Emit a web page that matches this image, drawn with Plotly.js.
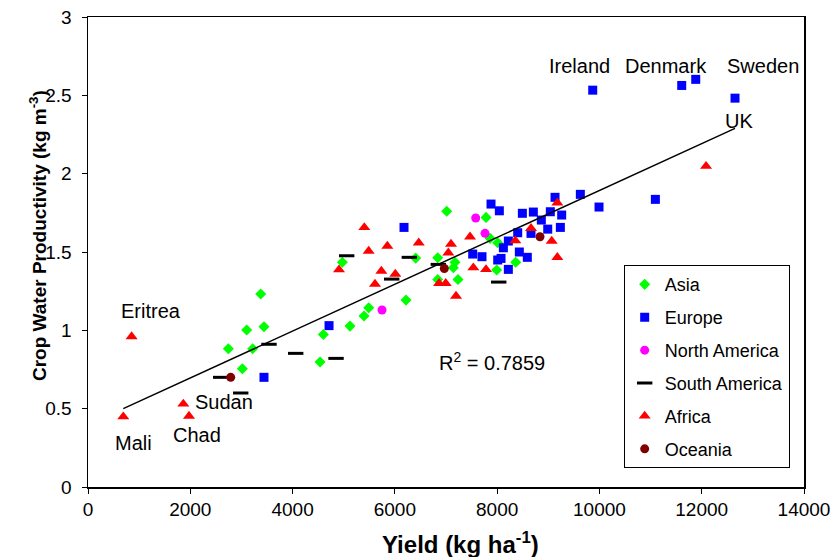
<!DOCTYPE html>
<html>
<head>
<meta charset="utf-8">
<script src="https://cdn.plot.ly/plotly-3.0.1.min.js"></script>
<style>html,body{margin:0;padding:0;background:#fff;}#chart{width:836px;height:557px;}</style>
</head>
<body>
<div id="chart"></div>
<script>
// Asia
const asiaX = [2744, 3018, 3103, 3220, 3377, 3441, 4537, 4602, 5123, 5397, 5489, 4973, 6218, 6407, 6838, 7176, 7143, 6838, 7235, 7014, 7783, 7861, 8011, 7991, 8363];
const asiaY = [0.883, 0.755, 1.002, 0.883, 1.232, 1.023, 0.798, 0.974, 1.027, 1.091, 1.144, 1.434, 1.193, 1.461, 1.463, 1.434, 1.400, 1.325, 1.325, 1.760, 1.721, 1.587, 1.559, 1.385, 1.434];
// Europe
const europeX = [3441, 4713, 6179, 7522, 7704, 7880, 8043, 8011, 8076, 8219, 8122, 8219, 8402, 8434, 8590, 8493, 8708, 8662, 8864, 8989, 9040, 9132, 9236, 9262, 9627, 9992, 11094, 9869, 11609, 11883, 12651];
const europeY = [0.700, 1.030, 1.657, 1.487, 1.470, 1.806, 1.763, 1.449, 1.459, 1.389, 1.527, 1.570, 1.623, 1.500, 1.466, 1.747, 1.755, 1.619, 1.704, 1.646, 1.757, 1.849, 1.657, 1.736, 1.868, 1.787, 1.836, 2.533, 2.563, 2.602, 2.482];
// North America
const naX = [5749, 7581, 7763];
const naY = [1.130, 1.717, 1.619];
// South America
const saX = [2595, 2986, 3539, 4061, 4850, 5058, 5938, 6283, 6850, 8031];
const saY = [0.700, 0.600, 0.911, 0.853, 0.821, 1.476, 1.327, 1.466, 1.421, 1.308];
// Africa
const africaX = [690, 853, 1864, 1975, 4908, 5403, 5488, 5612, 5736, 5853, 6009, 6467, 6864, 6994, 7046, 7098, 7196, 7470, 7535, 7783, 8356, 8662, 9067, 9177, 9177, 12085];
const africaY = [0.449, 0.960, 0.530, 0.453, 1.387, 1.657, 1.506, 1.295, 1.378, 1.538, 1.359, 1.559, 1.300, 1.300, 1.495, 1.551, 1.219, 1.597, 1.400, 1.389, 1.572, 1.651, 1.570, 1.466, 1.814, 2.048];
// Oceania
const oceaniaX = [2790, 6967, 8838];
const oceaniaY = [0.700, 1.395, 1.597];
// Linear trend line endpoints
const trendX = [690, 12651];
const trendY = [0.500, 2.289];
// Country labels
const labelText = ["Ireland", "Denmark", "Sweden", "UK", "Eritrea", "Mali", "Sudan", "Chad"];
const labelX = [9601, 11302, 13199, 12731, 1222, 890, 2650, 2125];
const labelY = [2.688, 2.688, 2.688, 2.336, 1.125, 0.281, 0.544, 0.332];
const r2Text = "R<sup>2</sup> = 0.7859";
const r2X = 7894, r2Y = 0.80;
const xTicks = [0, 2000, 4000, 6000, 8000, 10000, 12000, 14000];
const yTicks = [0, 0.5, 1, 1.5, 2, 2.5, 3];
const yTickText = ["0", "0.5", "1", "1.5", "2", "2.5", "3"];
const xTitle = "Yield (kg ha<sup>-1</sup>)";
const yTitle = "Crop Water Productivity (kg m<sup>-3</sup>)";

const FONT = "Liberation Sans, Arial, sans-serif";

const traces = [
  {x: asiaX, y: asiaY, name: "Asia", legendgroup: "a", mode: "markers", type: "scatter",
   marker: {symbol: "diamond", size: 8.5, color: "#00ff00"}},
  {x: europeX, y: europeY, name: "Europe", legendgroup: "b", mode: "markers", type: "scatter",
   marker: {symbol: "square", size: 9, color: "#0000ff"}},
  {x: naX, y: naY, name: "North America", legendgroup: "c", mode: "markers", type: "scatter",
   marker: {symbol: "circle", size: 9, color: "#ff00ff"}},
  {x: saX, y: saY, name: "South America", legendgroup: "d", mode: "markers", type: "scatter",
   marker: {symbol: "line-ew", size: 11, color: "#000000", line: {color: "#000000", width: 3}}},
  {x: africaX, y: africaY, name: "Africa", legendgroup: "e", mode: "markers", type: "scatter",
   marker: {symbol: "triangle-up", size: 10.5, color: "#ff0000"}},
  {x: oceaniaX, y: oceaniaY, name: "Oceania", legendgroup: "f", mode: "markers", type: "scatter",
   marker: {symbol: "circle", size: 9, color: "#800000"}},
  {x: trendX, y: trendY, mode: "lines", type: "scatter", showlegend: false,
   line: {color: "#000000", width: 1.5}}
];

const annotations = labelText.map((t, i) => ({
  x: labelX[i], y: labelY[i], text: t, showarrow: false, xref: "x", yref: "y",
  font: {family: FONT, size: 20, color: "#000"}
}));
annotations.push({x: r2X, y: r2Y, text: r2Text, showarrow: false, xref: "x", yref: "y",
  font: {family: FONT, size: 20, color: "#000"}});
// axis titles placed as annotations for exact positioning
annotations.push({x: -0.0698, y: 0.534, xref: "paper", yref: "paper", text: yTitle,
  textangle: -90, showarrow: false, xanchor: "center", yanchor: "middle",
  font: {family: FONT, size: 19, weight: "bold", color: "#000"}});
annotations.push({x: 0.52, y: -0.119, xref: "paper", yref: "paper", text: xTitle,
  showarrow: false, xanchor: "center", yanchor: "middle",
  font: {family: FONT, size: 24, weight: "bold", color: "#000"}});

const layout = {
  width: 836, height: 557,
  margin: {l: 88, r: 32, t: 17, b: 70},
  paper_bgcolor: "#fff", plot_bgcolor: "#fff",
  font: {family: FONT, size: 19, color: "#000"},
  showlegend: true,
  legend: {
    x: 0.980, xanchor: "right", y: 0.472, yanchor: "top",
    bordercolor: "#000", borderwidth: 1, bgcolor: "#fff",
    font: {family: FONT, size: 18, color: "#000"},
    tracegroupgap: 6.5
  },
  xaxis: {
    range: [0, 14000], tickvals: xTicks, ticktext: xTicks.map(String),
    showline: true, linecolor: "#000", linewidth: 1.5, mirror: true,
    ticks: "outside", ticklen: 5, tickcolor: "#000", showgrid: false, zeroline: false,
    tickfont: {family: FONT, size: 19}
  },
  yaxis: {
    range: [0, 3], tickvals: yTicks, ticktext: yTickText,
    showline: true, linecolor: "#000", linewidth: 1.5, mirror: true,
    ticks: "outside", ticklen: 5, tickcolor: "#000", showgrid: false, zeroline: false,
    tickfont: {family: FONT, size: 19}, ticklabelstandoff: 6
  },
  annotations: annotations
};

Plotly.newPlot("chart", traces, layout, {displayModeBar: false, staticPlot: true});
</script>
</body>
</html>
